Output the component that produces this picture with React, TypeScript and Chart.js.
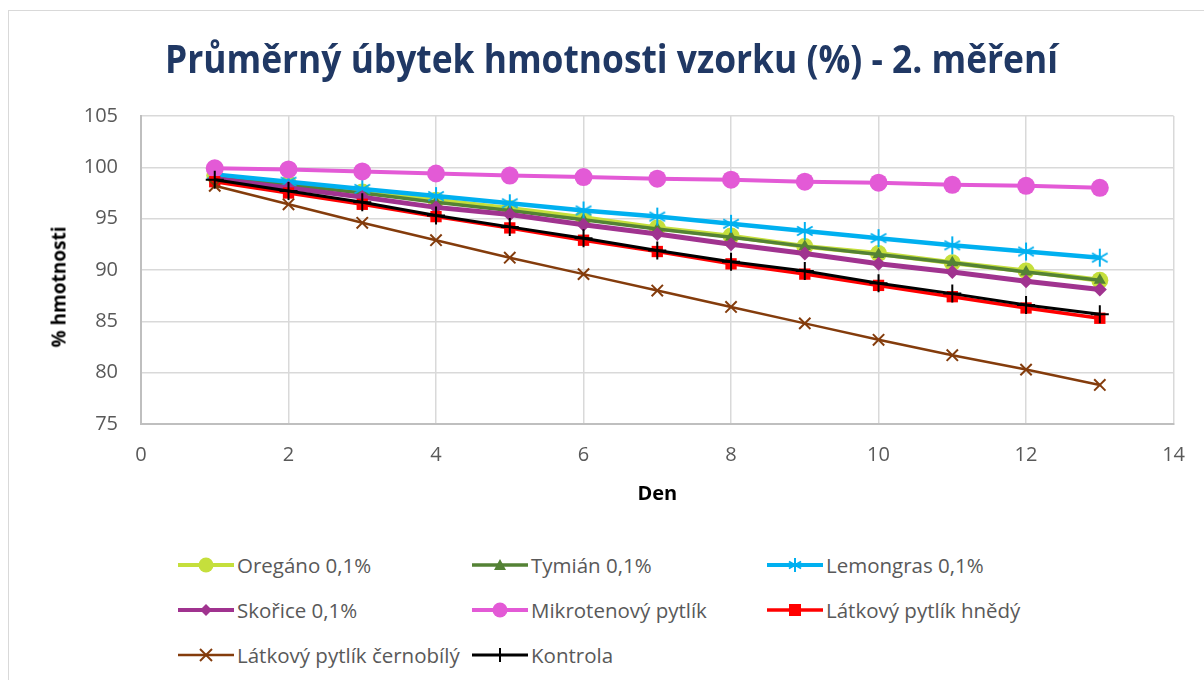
import React, { useEffect, useLayoutEffect, useRef } from "react";
import { Chart, registerables } from "chart.js";

Chart.register(...registerables);

const TITLE = "Průměrný úbytek hmotnosti vzorku (%) - 2. měření";
const X_TITLE = "Den";
const Y_TITLE = "% hmotnosti";

const days = [1, 2, 3, 4, 5, 6, 7, 8, 9, 10, 11, 12, 13];
const oregano = [99.2, 98.4, 97.6, 96.8, 96.0, 95.1, 94.1, 93.3, 92.3, 91.6, 90.7, 89.9, 89.0];
const tymian = [99.1, 98.3, 97.5, 96.6, 95.8, 94.9, 94.0, 93.2, 92.3, 91.5, 90.7, 89.8, 89.0];
const lemongras = [99.3, 98.6, 97.9, 97.2, 96.5, 95.8, 95.2, 94.5, 93.8, 93.1, 92.4, 91.8, 91.2];
const skorice = [98.9, 98.0, 97.1, 96.1, 95.4, 94.4, 93.5, 92.5, 91.6, 90.6, 89.8, 88.9, 88.1];
const mikrotenovy = [99.9, 99.8, 99.6, 99.4, 99.2, 99.05, 98.9, 98.8, 98.6, 98.5, 98.3, 98.2, 98.0];
const hnedy = [98.6, 97.5, 96.4, 95.2, 94.1, 92.9, 91.8, 90.6, 89.6, 88.5, 87.4, 86.3, 85.3];
const cernobily = [98.2, 96.4, 94.6, 92.9, 91.2, 89.6, 88.0, 86.4, 84.8, 83.2, 81.7, 80.3, 78.8];
const kontrola = [98.8, 97.7, 96.6, 95.3, 94.2, 93.1, 91.9, 90.8, 89.9, 88.7, 87.7, 86.6, 85.7];

const yTicks = [75, 80, 85, 90, 95, 100, 105];
const xTicks = [0, 2, 4, 6, 8, 10, 12, 14];

type Marker = "circle" | "triangle" | "star" | "diamond" | "square" | "x" | "plus";

const series: { label: string; values: number[]; color: string; width: number; marker: Marker; size: number }[] = [
  { label: "Oregáno 0,1%", values: oregano, color: "#c5df3c", width: 5, marker: "circle", size: 8.5 },
  { label: "Tymián 0,1%", values: tymian, color: "#548235", width: 3.5, marker: "triangle", size: 7 },
  { label: "Lemongras 0,1%", values: lemongras, color: "#00b0f0", width: 4.5, marker: "star", size: 9 },
  { label: "Skořice 0,1%", values: skorice, color: "#a0338f", width: 5, marker: "diamond", size: 7 },
  { label: "Mikrotenový pytlík", values: mikrotenovy, color: "#e35ad6", width: 4, marker: "circle", size: 9 },
  { label: "Látkový pytlík hnědý", values: hnedy, color: "#ff0000", width: 3.5, marker: "square", size: 8 },
  { label: "Látkový pytlík černobílý", values: cernobily, color: "#843c0c", width: 2.5, marker: "x", size: 8 },
  { label: "Kontrola", values: kontrola, color: "#000000", width: 3, marker: "plus", size: 9 },
];

function starCanvas(color: string, r: number) {
  const c = document.createElement("canvas");
  const s = Math.ceil(r * 2 + 4);
  c.width = s;
  c.height = s;
  const ctx = c.getContext("2d")!;
  ctx.strokeStyle = color;
  ctx.lineWidth = 2;
  const m = s / 2;
  ctx.beginPath();
  ctx.moveTo(m, m - r);
  ctx.lineTo(m, m + r);
  const dx = r * Math.cos(Math.PI / 6);
  const dy = r * Math.sin(Math.PI / 6);
  ctx.moveTo(m - dx, m - dy);
  ctx.lineTo(m + dx, m + dy);
  ctx.moveTo(m - dx, m + dy);
  ctx.lineTo(m + dx, m - dy);
  ctx.stroke();
  return c;
}

function LegendIcon({ color, width, marker }: { color: string; width: number; marker: Marker }) {
  const w = 56;
  const h = 22;
  const cx = w / 2;
  const cy = h / 2;
  let m: React.ReactNode = null;
  if (marker === "circle") m = <circle cx={cx} cy={cy} r={7.5} fill={color} />;
  if (marker === "triangle")
    m = <polygon points={`${cx},${cy - 6} ${cx + 6},${cy + 5} ${cx - 6},${cy + 5}`} fill={color} />;
  if (marker === "diamond")
    m = <polygon points={`${cx},${cy - 6} ${cx + 6},${cy} ${cx},${cy + 6} ${cx - 6},${cy}`} fill={color} />;
  if (marker === "square") m = <rect x={cx - 6} y={cy - 6} width={12} height={12} fill={color} />;
  if (marker === "star") {
    const r = 7;
    const dx = r * Math.cos(Math.PI / 6);
    const dy = r * Math.sin(Math.PI / 6);
    m = (
      <g stroke={color} strokeWidth={2}>
        <line x1={cx} y1={cy - r} x2={cx} y2={cy + r} />
        <line x1={cx - dx} y1={cy - dy} x2={cx + dx} y2={cy + dy} />
        <line x1={cx - dx} y1={cy + dy} x2={cx + dx} y2={cy - dy} />
      </g>
    );
  }
  if (marker === "x")
    m = (
      <g stroke={color} strokeWidth={2}>
        <line x1={cx - 6} y1={cy - 6} x2={cx + 6} y2={cy + 6} />
        <line x1={cx - 6} y1={cy + 6} x2={cx + 6} y2={cy - 6} />
      </g>
    );
  if (marker === "plus")
    m = (
      <g stroke={color} strokeWidth={2}>
        <line x1={cx} y1={cy - 7} x2={cx} y2={cy + 7} />
        <line x1={cx - 7} y1={cy} x2={cx + 7} y2={cy} />
      </g>
    );
  return (
    <svg width={w} height={h} style={{ display: "block" }}>
      <line x1={0} y1={cy} x2={w} y2={cy} stroke={color} strokeWidth={Math.min(width, 4)} />
      {m}
    </svg>
  );
}

export default function App() {
  const canvasRef = useRef<HTMLCanvasElement | null>(null);
  const titleRef = useRef<HTMLSpanElement | null>(null);

  useLayoutEffect(() => {
    const el = titleRef.current;
    if (!el) return;
    el.style.transform = "none";
    const w = el.getBoundingClientRect().width;
    const target = 893;
    if (w > 0) el.style.transform = `scaleX(${target / w})`;
  }, []);

  useEffect(() => {
    if (!canvasRef.current) return;
    const styleFor = (s: (typeof series)[number]): any => {
      switch (s.marker) {
        case "circle": return "circle";
        case "triangle": return "triangle";
        case "star": return starCanvas(s.color, s.size);
        case "diamond": return "rectRot";
        case "square": return "rect";
        case "x": return "crossRot";
        case "plus": return "cross";
      }
    };
    const chart = new Chart(canvasRef.current, {
      type: "line",
      data: {
        datasets: series.map((s, i) => ({
          label: s.label,
          data: days.map((d, j) => ({ x: d, y: s.values[j] })),
          borderColor: s.color,
          backgroundColor: s.color,
          borderWidth: s.width,
          pointStyle: styleFor(s),
          pointRadius: s.size,
          pointHoverRadius: s.size,
          pointBackgroundColor: s.color,
          pointBorderColor: s.color,
          pointBorderWidth: s.marker === "x" || s.marker === "plus" ? 2 : 0,
          tension: 0,
          order: series.length - 1 - i,
          clip: false as any,
        })),
      },
      options: {
        animation: false,
        responsive: false,
        devicePixelRatio: 1,
        layout: { padding: { top: 116, left: 0, right: 29, bottom: 0 } },
        plugins: {
          legend: { display: false },
          tooltip: { enabled: false },
          title: { display: false },
        },
        scales: {
          x: {
            type: "linear",
            min: 0,
            max: 14,
            afterFit: (scale: any) => { scale.height = 96; },
            afterBuildTicks: (scale: any) => { scale.ticks = xTicks.map((v) => ({ value: v })); },
            ticks: {
              font: { family: "'Open Sans', sans-serif", size: 20 },
              color: "#595959",
              padding: 19,
              maxRotation: 0,
            },
            grid: { color: "#d9d9d9", lineWidth: 1.5, drawTicks: false },
            border: { color: "#bfbfbf", width: 2 },
            title: {
              display: true,
              text: X_TITLE,
              font: { family: "'Open Sans', sans-serif", size: 20, weight: "bold" },
              color: "#000000",
              padding: { top: 0, bottom: 14 },
            },
          },
          y: {
            type: "linear",
            min: 75,
            max: 105,
            afterFit: (scale: any) => { scale.width = 141; },
            afterBuildTicks: (scale: any) => { scale.ticks = yTicks.map((v) => ({ value: v })); },
            ticks: {
              font: { family: "'Open Sans', sans-serif", size: 20 },
              color: "#595959",
              padding: 23,
            },
            grid: { color: "#d9d9d9", lineWidth: 1.5, drawTicks: false },
            border: { color: "#bfbfbf", width: 2 },
            title: { display: false },
          },
        },
      },
    });
    return () => chart.destroy();
  }, []);

  const cols = [178, 472, 767];
  const rows = [565, 610, 655];

  return (
    <div style={{ position: "fixed", left: 0, top: 0, width: 1204, height: 680, background: "#fff", overflow: "hidden" }}>
      <div style={{ position: "absolute", left: 8, top: 10, width: 1210, height: 690, border: "1px solid #d9d9d9", boxSizing: "border-box" }} />
      <canvas ref={canvasRef} width={1204} height={520} style={{ position: "absolute", left: 0, top: 0, width: 1204, height: 520 }} />
      <div
        style={{
          position: "absolute",
          left: 59,
          top: 287,
          width: 0,
          height: 0,
        }}
      >
        <div
          style={{
            position: "absolute",
            left: 0,
            top: 0,
            transform: "translate(-50%, -50%) rotate(-90deg)",
            fontFamily: "'Open Sans', sans-serif",
            fontWeight: 700,
            fontSize: 19,
            lineHeight: 1,
            color: "#000",
            whiteSpace: "nowrap",
          }}
        >
          {Y_TITLE}
        </div>
      </div>
      <div style={{ position: "absolute", left: 165, top: 38, height: 50, whiteSpace: "nowrap" }}>
        <span
          ref={titleRef}
          style={{
            display: "inline-block",
            fontFamily: "'Open Sans', sans-serif",
            fontWeight: 700,
            fontSize: 40,
            lineHeight: 1,
            color: "#203864",
            transformOrigin: "left center",
            whiteSpace: "nowrap",
          }}
        >
          {TITLE}
        </span>
      </div>
      {series.map((s, i) => {
        const col = i % 3;
        const row = Math.floor(i / 3);
        return (
          <div
            key={s.label}
            style={{
              position: "absolute",
              left: cols[col],
              top: rows[row] - 15,
              height: 30,
              display: "flex",
              alignItems: "center",
              whiteSpace: "nowrap",
            }}
          >
            <LegendIcon color={s.color} width={s.width} marker={s.marker} />
            <span
              style={{
                marginLeft: 3,
                fontFamily: "'Open Sans', sans-serif",
                fontSize: 20.5,
                color: "#595959",
                lineHeight: "30px",
              }}
            >
              {s.label}
            </span>
          </div>
        );
      })}
    </div>
  );
}
